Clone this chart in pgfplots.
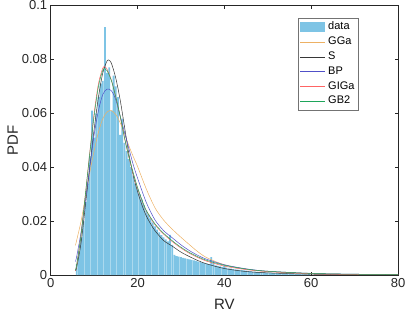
\documentclass[border=0pt]{standalone}
\usepackage{pgfplots}
\pgfplotsset{compat=1.18}
\usepackage{fontspec}
\setmainfont{Liberation Sans}
\definecolor{databar}{RGB}{126,196,229}
\definecolor{cGGa}{RGB}{237,177,100}
\definecolor{cS}{RGB}{55,55,55}
\definecolor{cBP}{RGB}{80,80,200}
\definecolor{cGIGa}{RGB}{255,100,100}
\definecolor{cGB2}{RGB}{30,165,90}
\definecolor{axgray}{RGB}{38,38,38}
\pgfplotsset{
  lineleg/.style={legend image code/.code={\draw[##1] (0pt,0pt) -- (25pt,0pt);}},
  barleg/.style={legend image code/.code={\fill[databar] (0pt,-5pt) rectangle (25pt,5pt);}},
}
\pgfplotstableread{
x y
6.0 0.004
6.5 0.008
7.0 0.014
7.5 0.020
8.0 0.027
8.5 0.034
9.0 0.044
9.5 0.061
10.0 0.051
10.5 0.060
11.0 0.066
11.5 0.071
12.0 0.072
12.5 0.092
13.0 0.075
13.5 0.077
14.0 0.061
14.5 0.074
15.0 0.070
15.5 0.066
16.0 0.052
16.5 0.058
17.0 0.049
17.5 0.046
18.0 0.043
18.5 0.040
19.0 0.037
19.5 0.034
20.0 0.032
20.5 0.030
21.0 0.028
21.5 0.026
22.0 0.024
22.5 0.0225
23.0 0.021
23.5 0.0195
24.0 0.018
24.5 0.0168
25.0 0.0158
25.5 0.0148
26.0 0.014
26.5 0.0132
27.0 0.0125
27.5 0.0149
28.0 0.0112
28.5 0.0075
29.0 0.0070
29.5 0.0068
30.0 0.0066
30.5 0.0064
31.0 0.0062
31.5 0.0060
32.0 0.0058
32.5 0.0056
33.0 0.0054
33.5 0.0052
34.0 0.0050
34.5 0.0048
35.0 0.0046
35.5 0.0044
36.0 0.0042
36.5 0.0040
37.0 0.0066
37.5 0.0047
38.0 0.0036
38.5 0.0034
39.0 0.0032
39.5 0.0030
40.0 0.0035
40.5 0.0027
41.0 0.0025
41.5 0.0024
42.0 0.0022
42.5 0.0021
43.0 0.0020
43.5 0.0019
44.0 0.0018
44.5 0.0017
45.0 0.0016
45.5 0.0015
46.0 0.0014
46.5 0.0013
47.0 0.0013
47.5 0.0012
48.0 0.0011
48.5 0.0011
49.0 0.0010
49.5 0.0009
50.0 0.0009
50.5 0.0008
51.0 0.0008
51.5 0.0007
52.0 0.0007
52.5 0.0006
53.0 0.0006
53.5 0.0005
54.0 0.0005
54.5 0.0005
55.0 0.0004
55.5 0.0004
56.0 0.0004
56.5 0.0003
57.0 0.0003
57.5 0.0003
58.0 0.0003
58.5 0.0002
59.0 0.0002
59.5 0.0008
}\histdata
\begin{document}
\begin{tikzpicture}
\begin{axis}[
  scale only axis, width=347.3pt, height=269.5pt,
  xmin=0, xmax=80, ymin=0, ymax=0.1,
  xtick={0,20,40,60,80},
  ytick={0,0.02,0.04,0.06,0.08,0.1},
  scaled y ticks=false,
  yticklabel style={/pgf/number format/fixed,/pgf/number format/precision=2},
  /pgf/number format/assume math mode=true,
  tick label style={font=\fontsize{13}{13}\selectfont, text=axgray},
  label style={font=\fontsize{15}{15}\selectfont, text=axgray},
  xlabel={RV}, ylabel={PDF},
  xlabel style={yshift=-5pt},
  ylabel style={yshift=-3pt},
  tick align=inside, major tick length=3.5pt,
  tick style={color=axgray, line width=0.5pt},
  axis line style={color=axgray, line width=0.5pt},
  xtick pos=both, ytick pos=both,
  legend cell align=left,
  legend style={at={(rel axis cs:0.712,0.9525)}, anchor=north west,
    draw=black!55, line width=0.5pt, font=\fontsize{11}{11}\selectfont,
    inner xsep=2pt, inner ysep=2pt, row sep=1.5pt, column sep=1pt,
    nodes={inner sep=1.5pt, text height=7.8pt, text depth=2.5pt},
    column 2/.style={nodes={text width=42pt, align=left}}},
]
\coordinate (bl) at (rel axis cs:0,0);
\coordinate (tr) at (rel axis cs:1,1);
\addplot[ybar, bar width=0.42, bar shift=0pt, fill=databar, draw=none, barleg] table[x=x,y=y] {\histdata};
\addlegendentry{data}
\addplot[cGGa, line width=0.5pt, smooth, lineleg] coordinates {
(5.7,0.011)(6,0.013)(7,0.020)(8,0.029)(9,0.038)(10,0.046)(11,0.053)(12,0.058)(13,0.0605)(14,0.0610)(15,0.0595)(16,0.0565)(17,0.0525)(18,0.048)(19,0.0440)(20,0.0403)(22,0.032)(24,0.025)(26,0.0204)(28,0.0170)(30,0.0140)(32,0.0112)(34,0.0085)(36,0.0064)(40,0.0038)(45,0.0022)(50,0.0013)(60,0.0005)(70,0.0002)(80,0.0001)};
\addlegendentry{GGa}
\addplot[cS, line width=0.5pt, smooth, lineleg] coordinates {
(5.7,0.0015)(6,0.003)(7,0.012)(8,0.026)(9,0.040)(10,0.054)(11,0.066)(12,0.075)(13,0.0795)(13.5,0.0796)(14,0.0785)(15,0.073)(16,0.065)(17,0.055)(18,0.045)(19,0.037)(20,0.031)(21,0.026)(22,0.022)(23,0.019)(24,0.0165)(26,0.0128)(28,0.0107)(30,0.0085)(32,0.0068)(34,0.0053)(36,0.0041)(40,0.0024)(45,0.0013)(50,0.0008)(60,0.0003)(70,0.0001)(80,0.00005)};
\addlegendentry{S}
\addplot[cBP, line width=0.5pt, smooth, lineleg] coordinates {
(5.7,0.005)(6,0.007)(7,0.016)(8,0.028)(9,0.040)(10,0.052)(11,0.061)(12,0.067)(13,0.069)(14,0.0683)(15,0.065)(16,0.059)(17,0.053)(18,0.047)(19,0.041)(20,0.036)(22,0.027)(24,0.0205)(26,0.0165)(28,0.0138)(30,0.0112)(32,0.0090)(34,0.0072)(36,0.0058)(40,0.0038)(45,0.0023)(50,0.0014)(60,0.0006)(70,0.0003)(80,0.00015)};
\addlegendentry{BP}
\addplot[cGIGa, line width=0.5pt, smooth, lineleg] coordinates {
(5.7,0.0016)(6,0.0038)(7,0.015)(8,0.030)(9,0.0455)(10,0.060)(11,0.071)(12,0.0768)(12.5,0.0772)(13,0.0763)(14,0.0722)(15,0.0660)(16,0.0588)(17,0.0508)(18,0.0437)(19,0.0376)(20,0.0322)(21,0.0277)(22,0.0238)(24,0.0187)(26,0.0152)(28,0.0124)(30,0.0100)(32,0.0080)(34,0.0064)(36,0.0051)(40,0.0033)(45,0.0020)(50,0.0013)(60,0.0005)(70,0.0002)(80,0.0001)};
\addlegendentry{GIGa}
\addplot[cGB2, line width=0.5pt, smooth, lineleg] coordinates {
(5.7,0.0018)(6,0.004)(7,0.015)(8,0.030)(9,0.045)(10,0.059)(11,0.070)(12,0.0760)(12.5,0.0765)(13,0.0758)(14,0.072)(15,0.066)(16,0.059)(17,0.051)(18,0.044)(19,0.038)(20,0.0325)(21,0.028)(22,0.024)(24,0.019)(26,0.0155)(28,0.0127)(30,0.0103)(32,0.0083)(34,0.0067)(36,0.0054)(40,0.0036)(45,0.0022)(50,0.0014)(60,0.0006)(70,0.0003)(80,0.00015)};
\addlegendentry{GB2}
\end{axis}
\pgfresetboundingbox
\path ([shift={(-50.7pt,-40pt)}]bl) rectangle ([shift={(9pt,5.5pt)}]tr);
\end{tikzpicture}
\end{document}
